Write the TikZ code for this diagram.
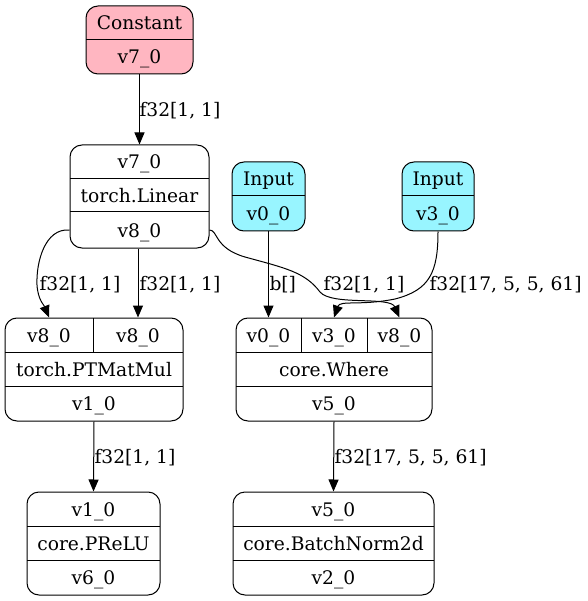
\documentclass[tikz,border=0pt]{standalone}
\usepackage{xcolor}
\usepackage{fontspec}
\setmainfont{DejaVu Serif}
\usepackage{tikz}
\usetikzlibrary{positioning, arrows.meta}
\definecolor{constpink}{HTML}{FFB6C1}
\definecolor{inputcyan}{HTML}{98F5FF}

\begin{document}
\begin{tikzpicture}[x=1pt, y=-1pt, line width=1pt,
    every node/.style={font=\fontsize{18.67}{22}\selectfont},
    record/.style={draw, rounded corners=12pt, inner sep=0pt},
    field/.style={inner sep=0pt, minimum height=34pt, text height=15pt, text depth=1pt},
    lbl/.style={anchor=west, inner sep=0pt},
    >={Triangle[length=12pt, width=10pt]}]
  \useasboundingbox (0,0) rectangle (587,601);

  \node[record, fill=constpink, minimum width=107pt, minimum height=68pt] (const) at (139.5,40) {};
  \draw (86,40) -- (193,40);
  \node[field] (const_op) at (139.5,23) {Constant};
  \node[field] (const_out) at (139.5,57) {v7\_0};

  \node[record, minimum width=139pt, minimum height=103pt] (lin) at (139.5,196.5) {};
  \draw (70,179) -- (209,179) (70,212) -- (209,212);
  \node[field] (lin_in) at (139.5,162) {v7\_0};
  \node[field] (lin_op) at (139.5,195.5) {torch.Linear};
  \node[field, minimum width=139pt, minimum height=36pt] (lin_out) at (139.5,230) {v8\_0};

  \node[record, fill=inputcyan, minimum width=73pt, minimum height=69pt] (in0) at (268.5,196.5) {};
  \draw (232,196) -- (305,196);
  \node[field] (in0_op) at (268.5,179) {Input};
  \node[field, minimum height=35pt] (in0_out) at (268.5,213.5) {v0\_0};

  \node[record, fill=inputcyan, minimum width=72pt, minimum height=69pt] (in3) at (438,196.5) {};
  \draw (402,196) -- (474,196);
  \node[field] (in3_op) at (438,179) {Input};
  \node[field, minimum height=35pt] (in3_out) at (438,213.5) {v3\_0};

  \node[record, minimum width=178pt, minimum height=103pt] (mm) at (94,369.5) {};
  \draw (5,352) -- (183,352) (5,386) -- (183,386) (93,318) -- (93,352);
  \node[field, minimum width=88pt] (mm_a) at (49,335) {v8\_0};
  \node[field, minimum width=90pt] (mm_b) at (138,335) {v8\_0};
  \node[field] (mm_op) at (94,369) {torch.PTMatMul};
  \node[field, minimum height=35pt] (mm_out) at (94,403.5) {v1\_0};

  \node[record, minimum width=196pt, minimum height=103pt] (wh) at (334,369.5) {};
  \draw (236,352) -- (432,352) (236,386) -- (432,386) (301,318) -- (301,352) (367,318) -- (367,352);
  \node[field, minimum width=65pt] (wh_a) at (268.5,335) {v0\_0};
  \node[field, minimum width=66pt] (wh_b) at (334,335) {v3\_0};
  \node[field, minimum width=65pt] (wh_c) at (399.5,335) {v8\_0};
  \node[field] (wh_op) at (334,369) {core.Where};
  \node[field, minimum height=35pt] (wh_out) at (334,403.5) {v5\_0};

  \node[record, minimum width=133pt, minimum height=103pt] (pr) at (93.5,543.5) {};
  \draw (27,526) -- (160,526) (27,560) -- (160,560);
  \node[field] (pr_in) at (93.5,509) {v1\_0};
  \node[field] (pr_op) at (93.5,543) {core.PReLU};
  \node[field, minimum height=35pt] (pr_out) at (93.5,577.5) {v6\_0};

  \node[record, minimum width=201pt, minimum height=103pt] (bn) at (333.5,543.5) {};
  \draw (233,526) -- (434,526) (233,560) -- (434,560);
  \node[field] (bn_in) at (333.5,509) {v5\_0};
  \node[field] (bn_op) at (333.5,543) {core.BatchNorm2d};
  \node[field, minimum height=35pt] (bn_out) at (333.5,577.5) {v2\_0};

  \draw[->] (const_out.south) -- (lin_in.north) node[lbl] at (139,111) {f32[1, 1]};
  \draw[->] (lin_out.west) .. controls (45,228) and (36,262) .. (37,285)
    .. controls (38,300) and (44,305) .. (mm_a.north) node[lbl] at (39,284.5) {f32[1, 1]};
  \draw[->] (lin_out.south -| mm_b.north) -- (mm_b.north) node[lbl] at (139,284.5) {f32[1, 1]};
  \draw[->] (lin_out.east) .. controls (218,230) and (214,248) .. (245,257)
    .. controls (285,268) and (305,272) .. (320,292)
    .. controls (332,306) and (390,296) .. (wh_c.north) node[lbl] at (323,284.5) {f32[1, 1]};
  \draw[->] (in0_out.south) -- (wh_a.north) node[lbl] at (269,284.5) {b[]};
  \draw[->] (in3_out.south) .. controls (438,272) and (430,290) .. (395,299)
    .. controls (360,306) and (340,300) .. (wh_b.north) node[lbl] at (429,284.5) {f32[17, 5, 5, 61]};
  \draw[->] (mm_out.south) -- (pr_in.north) node[lbl] at (94,458) {f32[1, 1]};
  \draw[->] (wh_out.south) -- (bn_in.north) node[lbl] at (334,458) {f32[17, 5, 5, 61]};
\end{tikzpicture}
\end{document}
